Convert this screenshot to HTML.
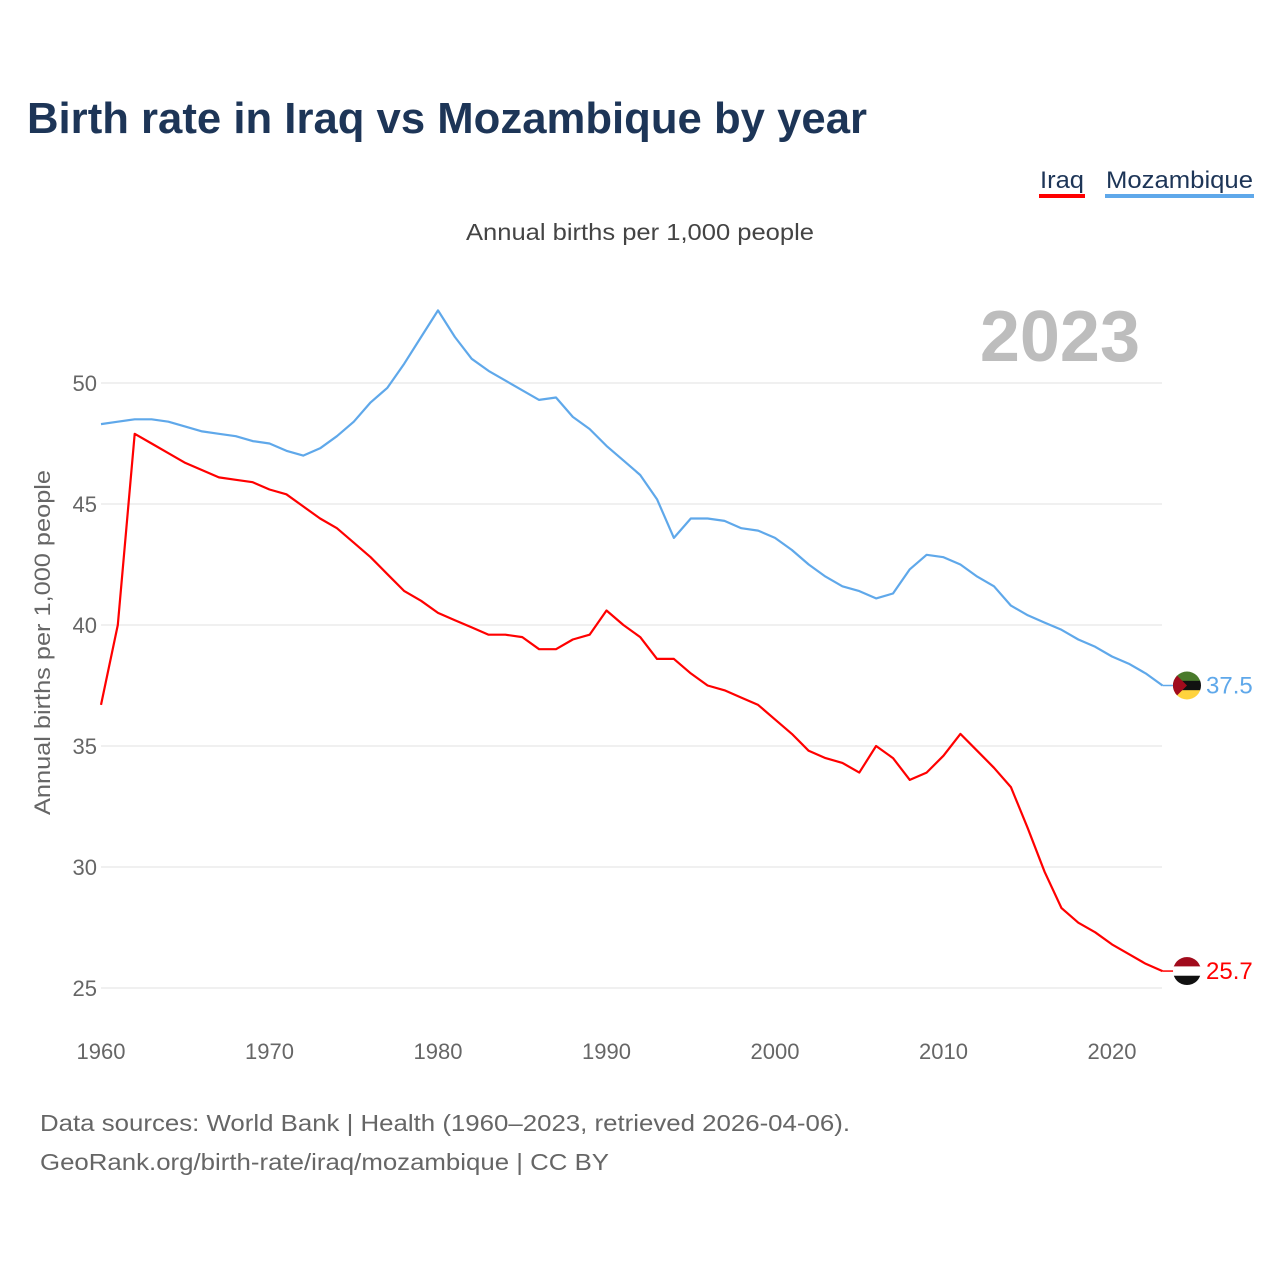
<!DOCTYPE html>
<html><head><meta charset="utf-8"><style>
body{margin:0;background:#fff;width:1280px;height:1280px;overflow:hidden;font-family:"Liberation Sans",sans-serif}
</style></head><body>
<svg width="1280" height="1280" viewBox="0 0 1280 1280">
<text x="27" y="133" font-size="44" font-weight="bold" fill="#1d3557" textLength="840" lengthAdjust="spacingAndGlyphs">Birth rate in Iraq vs Mozambique by year</text>
<g><text x="1040" y="188" font-size="24" fill="#1d3557" textLength="44" lengthAdjust="spacingAndGlyphs">Iraq</text><rect x="1039" y="194" width="46" height="4" fill="#f00"/></g>
<g><text x="1106" y="188" font-size="24" fill="#1d3557" textLength="147" lengthAdjust="spacingAndGlyphs">Mozambique</text><rect x="1105" y="194" width="149" height="4" fill="#5fa8ea"/></g>
<text x="466" y="240" font-size="23" fill="#444" textLength="348" lengthAdjust="spacingAndGlyphs">Annual births per 1,000 people</text>
<text x="1140" y="361" font-size="72" font-weight="bold" fill="#bdbdbd" text-anchor="end">2023</text>
<text transform="translate(50,815) rotate(-90)" font-size="22" fill="#666" textLength="345" lengthAdjust="spacingAndGlyphs">Annual births per 1,000 people</text>
<g id="grid"></g><g id="yt"></g><g id="xt"></g><g id="lines"></g><g id="ends"></g>
<text x="40" y="1131" font-size="23" fill="#666" textLength="810" lengthAdjust="spacingAndGlyphs">Data sources: World Bank | Health (1960–2023, retrieved 2026-04-06).</text>
<text x="40" y="1170" font-size="23" fill="#666" textLength="569" lengthAdjust="spacingAndGlyphs">GeoRank.org/birth-rate/iraq/mozambique | CC BY</text>
</svg>
<script>
const years=[];for(let y=1960;y<=2023;y++)years.push(y);
const iraq=[36.7,40.0,47.9,47.5,47.1,46.7,46.4,46.1,46.0,45.9,45.6,45.4,44.9,44.4,44.0,43.4,42.8,42.1,41.4,41.0,40.5,40.2,39.9,39.6,39.6,39.5,39.0,39.0,39.4,39.6,40.6,40.0,39.5,38.6,38.6,38.0,37.5,37.3,37.0,36.7,36.1,35.5,34.8,34.5,34.3,33.9,35.0,34.5,33.6,33.9,34.6,35.5,34.8,34.1,33.3,31.6,29.8,28.3,27.7,27.3,26.8,26.4,26.0,25.7];
const mozambique=[48.3,48.4,48.5,48.5,48.4,48.2,48.0,47.9,47.8,47.6,47.5,47.2,47.0,47.3,47.8,48.4,49.2,49.8,50.8,51.9,53.0,51.9,51.0,50.5,50.1,49.7,49.3,49.4,48.6,48.1,47.4,46.8,46.2,45.2,43.6,44.4,44.4,44.3,44.0,43.9,43.6,43.1,42.5,42.0,41.6,41.4,41.1,41.3,42.3,42.9,42.8,42.5,42.0,41.6,40.8,40.4,40.1,39.8,39.4,39.1,38.7,38.4,38.0,37.5];
const yTicks=[25,30,35,40,45,50];
const xTicks=[1960,1970,1980,1990,2000,2010,2020];
const NS='http://www.w3.org/2000/svg';
const X=y=>101+(y-1960)*(1112-101)/60;
const Y=v=>383+(50-v)*24.2;
function mk(tag,at,parent){const e=document.createElementNS(NS,tag);for(const k in at)e.setAttribute(k,at[k]);document.getElementById(parent).appendChild(e);return e;}
yTicks.forEach(t=>{
 const l=mk('line',{x1:101,x2:1162,y1:Y(t),y2:Y(t),stroke:'#ebebeb','stroke-width':1.5},'grid');
 
 
 const tx=mk('text',{x:97,y:Y(t)+8,'font-size':22,fill:'#666','text-anchor':'end'},'yt');tx.textContent=t;
 
 
});
xTicks.forEach(t=>{
 const tx=mk('text',{x:X(t),y:1059,'font-size':22,fill:'#666','text-anchor':'middle'},'xt');tx.textContent=t;
 
 
});
function line(data,color,name){
 const d=data.map((v,i)=>(i?'L':'M')+X(years[i]).toFixed(1)+','+Y(v).toFixed(1)).join('');
 const p=mk('path',{d:d,fill:'none',stroke:color,'stroke-width':2.2,'stroke-linejoin':'round'},'lines');
 
 
 const last=data[data.length-1],ly=Y(last),lx=X(2023);
 mk('line',{x1:lx,x2:1176,y1:ly,y2:ly,stroke:color,'stroke-width':1.5},'ends');
 const g=mk('g',{},'ends');
 
 
 const cx=1187,r=14;
 const cp=mk('clipPath',{id:'c'+name},'ends');
 const cc=document.createElementNS(NS,'circle');cc.setAttribute('cx',cx);cc.setAttribute('cy',ly);cc.setAttribute('r',r);cp.appendChild(cc);
 const cols=name==='iraq'?['#a10b1c','#fff','#111']:['#4a7a2c','#111','#ffd33d'];
 cols.forEach((c,i)=>{const rr=document.createElementNS(NS,'rect');rr.setAttribute('x',cx-r);rr.setAttribute('y',ly-r+i*r*2/3);rr.setAttribute('width',2*r);rr.setAttribute('height',r*2/3+0.5);rr.setAttribute('fill',c);rr.setAttribute('clip-path','url(#c'+name+')');g.appendChild(rr);});
 if(name==='mozambique'){const t=document.createElementNS(NS,'path');t.setAttribute('d',`M${cx-r},${ly-r}L${cx},${ly}L${cx-r},${ly+r}Z`);t.setAttribute('fill','#a10b1c');t.setAttribute('clip-path','url(#c'+name+')');g.appendChild(t);}
 const lab=mk('text',{x:1206,y:ly+8,'font-size':24,fill:color},'ends');lab.textContent=last.toFixed(1);
 
 
}
line(mozambique,'#5fa8ea','mozambique');
line(iraq,'#ff0000','iraq');
</script>
</body></html>
